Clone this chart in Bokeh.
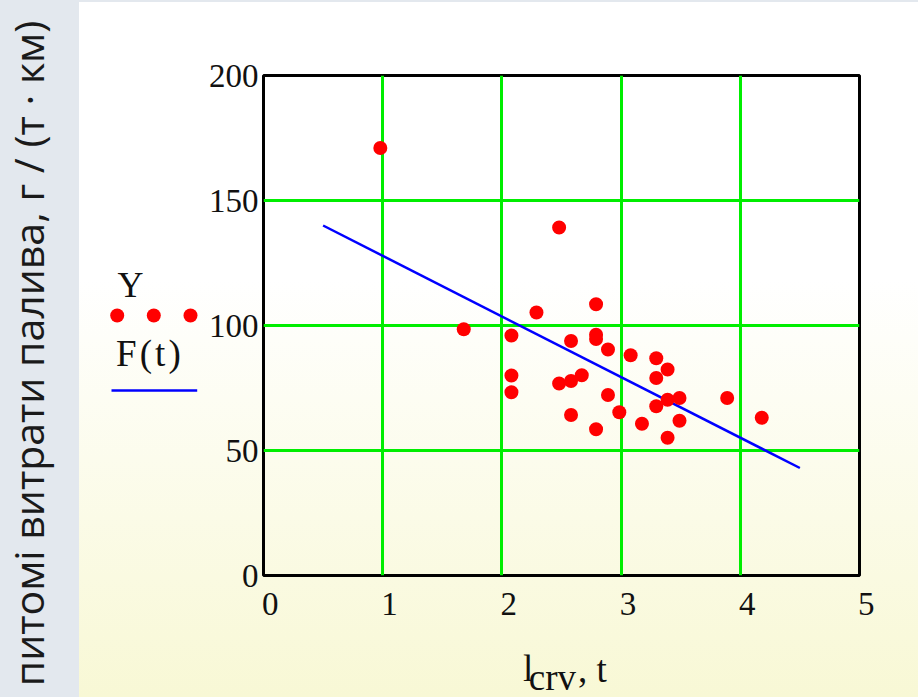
import numpy as np
from bokeh.plotting import figure
from bokeh.models import Range1d, FixedTicker
from bokeh.layouts import row, column
from bokeh.embed import file_html
from bokeh.resources import INLINE
from bokeh.core.properties import value

# observed data (Y)
t_obs = [0.98, 1.68, 2.08, 2.08, 2.08, 2.29, 2.48, 2.48, 2.58, 2.58,
         2.58, 2.67, 2.79, 2.79, 2.79, 2.79, 2.89, 2.89, 2.985, 3.08,
         3.175, 3.295, 3.295, 3.295, 3.39, 3.39, 3.39, 3.49, 3.49, 3.89,
         4.18]
y_obs = [171, 98.5, 96, 80, 73.3, 105.2, 139.2, 76.8, 93.8, 77.8,
         64.2, 80.1, 108.5, 96.3, 94.6, 58.5, 90.4, 72.2, 65.3, 88.1,
         60.7, 86.9, 79, 67.7, 82.4, 70.3, 55.1, 71, 61.9, 71,
         63.1]

# fitted line F(t)
t_fit = [0.5, 4.5]
f_fit = [140, 43]

x_ticks = [0, 1, 2, 3, 4, 5]
y_ticks = [0, 50, 100, 150, 200]

y_title = "питомі витрати палива, г / (т · км)"
legend_labels = ["Y", "F\u200a(\u200at\u200a)"]
x_title_parts = ["l", "crv", ", t"]

SERIF = value("Liberation Serif")
INK = "#111111"


def blank(fig):
    fig.title.visible = False
    fig.outline_line_color = None
    fig.background_fill_alpha = 0
    fig.border_fill_alpha = 0
    fig.grid.visible = False
    return fig


# ---- main chart ----
p = figure(width=718, height=637, output_backend="svg", toolbar_location=None,
           x_range=Range1d(0, 5), y_range=Range1d(0, 200),
           min_border_left=63, min_border_right=59,
           min_border_top=75, min_border_bottom=62)
p.title.visible = False
p.background_fill_alpha = 0
p.border_fill_alpha = 0
p.outline_line_color = "black"
p.outline_line_width = 3

for g, ticks in ((p.xgrid, x_ticks), (p.ygrid, y_ticks)):
    g.ticker = FixedTicker(ticks=ticks)
    g.grid_line_color = "#00ee00"
    g.grid_line_width = 3

for ax, ticks in ((p.xaxis, x_ticks), (p.yaxis, y_ticks)):
    ax.ticker = FixedTicker(ticks=ticks)
    ax.axis_line_color = None
    ax.major_tick_line_color = None
    ax.minor_tick_line_color = None
    ax.major_tick_out = 0
    ax.major_tick_in = 0
    ax.major_label_text_font = "Liberation Serif"
    ax.major_label_text_font_size = "33px"
    ax.major_label_text_color = INK

p.xaxis.major_label_overrides = {t: "\u2005\u2006" + str(t) for t in x_ticks}
p.xaxis.major_label_standoff = 10
p.yaxis.major_label_standoff = 5

p.line(t_fit, f_fit, line_color="#0000ff", line_width=2.5)
p.scatter(t_obs, y_obs, size=14, fill_color="#ff0000", line_color=None)

# ---- left strip: rotated y title + legend (page-pixel coordinates) ----
left = blank(figure(width=200, height=697, output_backend="svg", toolbar_location=None,
                    x_range=Range1d(0, 200), y_range=Range1d(697, 0),
                    x_axis_type=None, y_axis_type=None, min_border=0))
left.text(x=[27], y=[353], text=[y_title], angle=np.pi / 2,
          text_align="center", text_baseline="middle",
          text_font=value("Open Sans"), text_font_size=value("41px"), text_color="#1a1a1a")
left.text(x=[117], y=[284], text=[legend_labels[0]], text_font=SERIF,
          text_font_size=value("36px"), text_color=INK, text_baseline="alphabetic")
left.scatter(x=[116.7, 153.3, 190], y=[315, 315, 315], size=14,
             fill_color="#ff0000", line_color=None)
left.text(x=[115.5], y=[353], text=[legend_labels[1]], text_font=SERIF,
          text_font_size=value("37px"), text_color=INK, text_baseline="alphabetic")
left.line(x=[111, 196.7], y=[390, 390], line_color="#0000ff", line_width=2.5)

# ---- bottom strip: x title l_crv , t (page-pixel coordinates) ----
bottom = blank(figure(width=718, height=60, output_backend="svg", toolbar_location=None,
                      x_range=Range1d(200, 918), y_range=Range1d(697, 637),
                      x_axis_type=None, y_axis_type=None, min_border=0))
bottom.text(x=[512.5, 519.5, 579], y=[668, 677, 669], text=x_title_parts,
            text_font=SERIF, text_font_size=value("37px"), text_color=INK,
            text_baseline="alphabetic")

layout = row(left, column(p, bottom))
layout.styles = {
    "background": "linear-gradient(to right, #e3e8ee 0px, #e3e8ee 79px, rgba(0,0,0,0) 79px), "
                  "linear-gradient(to bottom, #e3e8ee 0px, #e3e8ee 2px, #ffffff 2px, #ffffff 40%, #f8f8d5 100%)"
}

open("out.html", "w").write(file_html(layout, INLINE))
